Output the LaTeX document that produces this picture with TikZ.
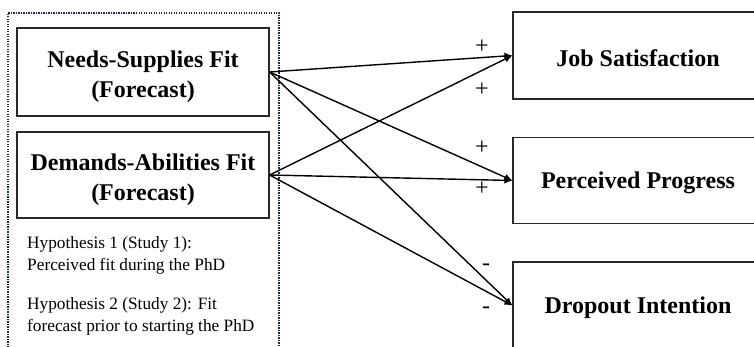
\documentclass[tikz,border=0pt]{standalone}
\usepackage{fontspec}
\setmainfont{Liberation Serif}
\usetikzlibrary{arrows.meta}
\definecolor{framecol}{RGB}{30,40,75}
\definecolor{boxcol}{RGB}{40,40,40}
\begin{document}
\begin{tikzpicture}[x=1pt,y=-1pt,
  box/.style={draw=boxcol, line width=1.2pt, inner sep=0pt},
  boxtext/.style={inner sep=0pt, align=center,
    font=\bfseries\fontsize{24}{30}\selectfont},
  arr/.style={line width=1.4pt, -{Latex[length=8pt,width=7pt]}},
  lab/.style={inner sep=0pt, font=\fontsize{24}{26}\selectfont},
  hyp/.style={inner sep=0pt, align=left, anchor=north west,
    font=\fontsize{17.3}{22}\selectfont},
  frame/.style={draw=framecol, line width=1.8pt, dash pattern=on 1.4pt off 1.1pt}]
\useasboundingbox (0,0) rectangle (754,347);
\clip (0,0) rectangle (754,347);
\draw[frame] (8,360) -- (8,13) -- (279,13) -- (279,360);
\node[box, minimum width=252pt, minimum height=88pt] (ns) at (143,72) {};
\node[box, minimum width=252pt, minimum height=86pt] (da) at (143,175) {};
\node[box, minimum width=250pt, minimum height=87pt] (js) at (638,55.5) {};
\node[box, minimum width=250pt, minimum height=86pt] (pp) at (638,180.5) {};
\node[box, minimum width=250pt, minimum height=87pt] (di) at (638,305.5) {};
\node[boxtext] (nst) at ([yshift=-5pt]ns.center) {Needs-Supplies Fit\\(Forecast)};
\node[boxtext] (dat) at ([yshift=-5pt]da.center) {Demands-Abilities Fit\\(Forecast)};
\node[boxtext] (jst) at ([yshift=-2.5pt]js.center) {Job Satisfaction};
\node[boxtext] (ppt) at ([yshift=-2pt]pp.center) {Perceived Progress};
\node[boxtext] (dit) at ([yshift=-2pt]di.center) {Dropout Intention};
\node[hyp] (h1) at (27,236) {Hypothesis 1 (Study 1):\\Perceived fit during the PhD};
\node[hyp] (h2) at (27,297) {Hypothesis 2 (Study 2): Fit\\forecast prior to starting the PhD};
\draw[arr] (ns.east) -- (js.west);
\draw[arr] (ns.east) -- (pp.west);
\draw[arr] (ns.east) -- (di.west);
\draw[arr] (da.east) -- (js.west);
\draw[arr] (da.east) -- (pp.west);
\draw[arr] (da.east) -- (di.west);
\node[lab] (p1) at (482,47) {+};
\node[lab] (p2) at (482,90) {+};
\node[lab] (p3) at (482,148) {+};
\node[lab] (p4) at (482,189) {+};
\node[lab] (m1) at (486,267) {-};
\node[lab] (m2) at (486,310) {-};
\end{tikzpicture}
\end{document}
